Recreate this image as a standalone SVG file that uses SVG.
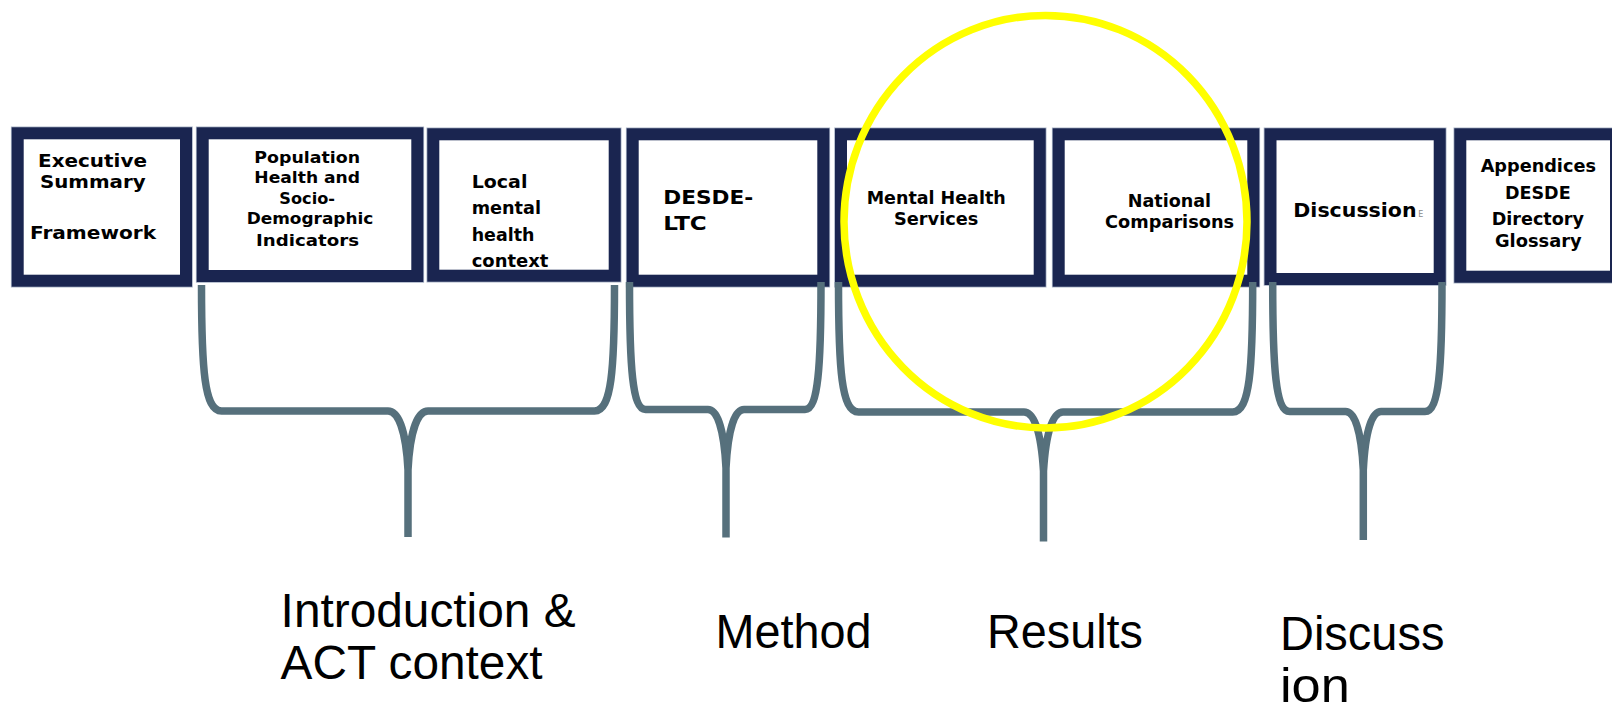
<svg xmlns="http://www.w3.org/2000/svg" width="1612" height="710" viewBox="0 0 1612 710">
<style>
.bx-edge{fill:none;stroke:#a9b3c6;stroke-width:13.6}
.bx{fill:#ffffff;stroke:#1a2550;stroke-width:12}
.t{font-family:"DejaVu Sans",Verdana,sans-serif;font-weight:bold;fill:#000000}
.m{text-anchor:middle}
.lbl{font-family:"Liberation Sans",Arial,sans-serif;font-size:48px;fill:#000000}
.brace{fill:none;stroke:#56707c;stroke-width:7.5;stroke-linejoin:round}
.hl{fill:none;stroke:#ffff00;stroke-width:7.5}
</style>
<rect width="1612" height="710" fill="#ffffff"/>

<g id="node-executive">
<rect class="bx-edge" x="17.7" y="133.3" width="168.3" height="147.4"/>
<rect class="bx" x="17.7" y="133.3" width="168.3" height="147.4"/>
<text class="t m" font-size="18" x="92.5" y="166.7" textLength="109" lengthAdjust="spacingAndGlyphs">Executive</text>
<text class="t m" font-size="18" x="92.8" y="187.7" textLength="105.7" lengthAdjust="spacingAndGlyphs">Summary</text>
<text class="t m" font-size="18" x="93" y="239.3" textLength="126" lengthAdjust="spacingAndGlyphs">Framework</text>
</g>

<g id="node-population">
<rect class="bx-edge" x="202.7" y="133.3" width="214.6" height="142.7"/>
<rect class="bx" x="202.7" y="133.3" width="214.6" height="142.7"/>
<text class="t m" font-size="15" x="307.2" y="162.7" textLength="105.7" lengthAdjust="spacingAndGlyphs">Population</text>
<text class="t m" font-size="15" x="307.2" y="183.3" textLength="105.7" lengthAdjust="spacingAndGlyphs">Health and</text>
<text class="t m" font-size="15" x="307.2" y="204" textLength="55.7" lengthAdjust="spacingAndGlyphs">Socio-</text>
<text class="t m" font-size="15" x="310" y="224.3" textLength="126.7" lengthAdjust="spacingAndGlyphs">Demographic</text>
<text class="t m" font-size="15" x="307.5" y="245.7" textLength="103" lengthAdjust="spacingAndGlyphs">Indicators</text>
</g>

<g id="node-local">
<rect class="bx-edge" x="433.3" y="134.3" width="181.4" height="141.4"/>
<rect class="bx" x="433.3" y="134.3" width="181.4" height="141.4"/>
<text class="t" font-size="18" x="471.7" y="187.7" textLength="55.7" lengthAdjust="spacingAndGlyphs">Local</text>
<text class="t" font-size="18" x="471.7" y="214" textLength="69.3" lengthAdjust="spacingAndGlyphs">mental</text>
<text class="t" font-size="18" x="471.7" y="240.7" textLength="62.7" lengthAdjust="spacingAndGlyphs">health</text>
<text class="t" font-size="18" x="471.7" y="266.7" textLength="76.7" lengthAdjust="spacingAndGlyphs">context</text>
</g>

<g id="node-desde">
<rect class="bx-edge" x="632.7" y="134.3" width="190.6" height="146.4"/>
<rect class="bx" x="632.7" y="134.3" width="190.6" height="146.4"/>
<text class="t" font-size="19" x="663.3" y="204" textLength="90" lengthAdjust="spacingAndGlyphs">DESDE-</text>
<text class="t" font-size="19" x="663.3" y="230" textLength="43.4" lengthAdjust="spacingAndGlyphs">LTC</text>
</g>

<g id="node-mhs">
<rect class="bx-edge" x="841" y="134.3" width="198.7" height="146.4"/>
<rect class="bx" x="841" y="134.3" width="198.7" height="146.4"/>
<text class="t m" font-size="17" x="936.2" y="203.5" textLength="139" lengthAdjust="spacingAndGlyphs">Mental Health</text>
<text class="t m" font-size="17" x="936.2" y="224.5" textLength="84.3" lengthAdjust="spacingAndGlyphs">Services</text>
</g>

<g id="node-national">
<rect class="bx-edge" x="1058.7" y="134.3" width="194.6" height="146.4"/>
<rect class="bx" x="1058.7" y="134.3" width="194.6" height="146.4"/>
<text class="t m" font-size="17" x="1169.4" y="207.3" textLength="83.3" lengthAdjust="spacingAndGlyphs">National</text>
<text class="t m" font-size="17" x="1169.6" y="227.8" textLength="129" lengthAdjust="spacingAndGlyphs">Comparisons</text>
</g>

<g id="node-discussion">
<rect class="bx-edge" x="1270.5" y="134.3" width="169.2" height="144.7"/>
<rect class="bx" x="1270.5" y="134.3" width="169.2" height="144.7"/>
<text class="t" font-size="20" x="1293.3" y="216.7" textLength="123.3" lengthAdjust="spacingAndGlyphs">Discussion</text>
<text font-family="DejaVu Sans, sans-serif" font-size="8" fill="#8a8a8a" x="1418.3" y="216.7">E</text>
</g>

<g id="node-appendices">
<rect class="bx-edge" x="1460.3" y="134.3" width="155.7" height="142.4"/>
<rect class="bx" x="1460.3" y="134.3" width="155.7" height="142.4"/>
<text class="t m" font-size="17" x="1538.3" y="171.7" textLength="115.3" lengthAdjust="spacingAndGlyphs">Appendices</text>
<text class="t m" font-size="17" x="1537.8" y="199" textLength="65.7" lengthAdjust="spacingAndGlyphs">DESDE</text>
<text class="t m" font-size="17" x="1537.8" y="225" textLength="92.3" lengthAdjust="spacingAndGlyphs">Directory</text>
<text class="t m" font-size="17" x="1538.3" y="246.5" textLength="86.7" lengthAdjust="spacingAndGlyphs">Glossary</text>
</g>

<g id="connectors">
<path class="brace" d="M201.5,285 C201.5,370 204.5,411 221.5,411 L388,411 C398,411 406,430 408,470 L408,537 M614.5,285 C614.5,370 611.5,411 594.5,411 L428,411 C418,411 410,430 408,470"/>
<path class="brace" d="M629.5,282 C629.5,368 632.5,409.5 645.5,409.5 L708,409.5 C717,409.5 724,428 726,468 L726,537.5 M821,282 C821,368 818,409.5 805,409.5 L744,409.5 C735,409.5 728,428 726,468"/>
<path class="brace" d="M838.5,282 C838.5,370 841.5,412 858.5,412 L1024,412 C1034,412 1041,431 1043.5,471 L1043.5,541.5 M1252.7,282 C1252.7,370 1249.7,412 1232.7,412 L1063,412 C1053,412 1046,431 1043.5,471"/>
<path class="brace" d="M1272.7,282 C1272.7,369 1275.7,411.5 1289.7,411.5 L1345.5,411.5 C1354.5,411.5 1361.3,430 1363.3,470 L1363.3,540 M1442,282 C1442,369 1439,411.5 1425,411.5 L1381,411.5 C1372,411.5 1365.3,430 1363.3,470"/>
</g>

<ellipse id="highlight" class="hl" cx="1045.5" cy="221.7" rx="201.5" ry="206.3"/>

<g id="labels">
<text class="lbl" x="280.6" y="627" textLength="295" lengthAdjust="spacingAndGlyphs">Introduction &amp;</text>
<text class="lbl" x="280.6" y="679" textLength="262" lengthAdjust="spacingAndGlyphs">ACT context</text>
<text class="lbl" x="715.5" y="648" textLength="156" lengthAdjust="spacingAndGlyphs">Method</text>
<text class="lbl" x="987" y="648" textLength="156" lengthAdjust="spacingAndGlyphs">Results</text>
<text class="lbl" x="1280" y="650" textLength="164.4" lengthAdjust="spacingAndGlyphs">Discuss</text>
<text class="lbl" x="1280" y="702" textLength="69.8" lengthAdjust="spacingAndGlyphs">ion</text>
</g>
</svg>
